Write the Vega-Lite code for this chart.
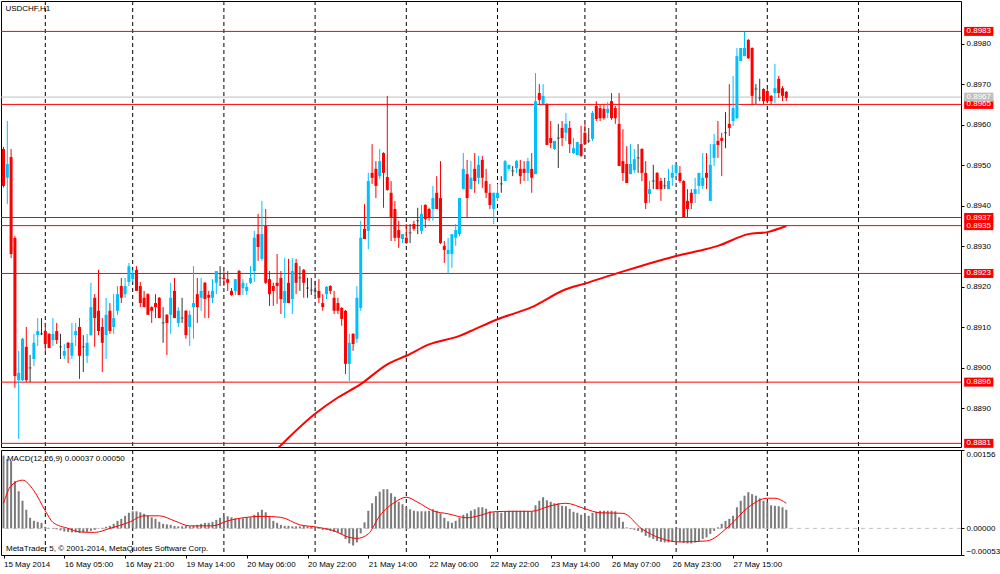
{
"$schema":"https://vega.github.io/schema/vega-lite/v6.json",
"padding":0,
"background":"white",
"spacing":3,
"bounds":"flush",
"config":{"view":{"stroke":"#000000","strokeWidth":1},"font":"Liberation Sans","axis":{"labelFont":"Liberation Sans","labelFontSize":8,"labelColor":"#000000","tickColor":"#000000","domainColor":"#000000","grid":false,"title":null}},
"datasets":{
"bars":[
{"i":0,"o":0.8954,"h":0.89545,"l":0.89445,"c":0.89449,"m":0.00145},
{"i":1,"o":0.89469,"h":0.89609,"l":0.89404,"c":0.89503,"m":0.00138},
{"i":2,"o":0.8952,"h":0.8954,"l":0.89271,"c":0.89281,"m":0.00134},
{"i":3,"o":0.89321,"h":0.89325,"l":0.88951,"c":0.8898,"m":0.00094},
{"i":4,"o":0.8897,"h":0.89042,"l":0.88825,"c":0.88988,"m":0.00074},
{"i":5,"o":0.8897,"h":0.89074,"l":0.88968,"c":0.89072,"m":0.00055},
{"i":6,"o":0.89052,"h":0.89101,"l":0.88965,"c":0.8897,"m":0.00037},
{"i":7,"o":0.89,"h":0.89032,"l":0.88965,"c":0.89,"m":0.00021},
{"i":8,"o":0.89022,"h":0.89084,"l":0.89005,"c":0.89062,"m":0.00015},
{"i":9,"o":0.89081,"h":0.89123,"l":0.89054,"c":0.89091,"m":0.00013},
{"i":10,"o":0.89084,"h":0.89123,"l":0.89081,"c":0.89084,"m":0.00011},
{"i":11,"o":0.89091,"h":0.89111,"l":0.89042,"c":0.89059,"m":0.00003},
{"i":12,"o":0.89084,"h":0.89086,"l":0.89049,"c":0.89049,"m":0.00001},
{"i":13,"o":0.89069,"h":0.89123,"l":0.89054,"c":0.89084,"m":-0.00001},
{"i":14,"o":0.89091,"h":0.89111,"l":0.89059,"c":0.89069,"m":-0.00002},
{"i":15,"o":0.89052,"h":0.89084,"l":0.89022,"c":0.89052,"m":-0.00004},
{"i":16,"o":0.8903,"h":0.89059,"l":0.89022,"c":0.89042,"m":-0.00006},
{"i":17,"o":0.89062,"h":0.89064,"l":0.89012,"c":0.89049,"m":-0.00007},
{"i":18,"o":0.8903,"h":0.89111,"l":0.89022,"c":0.89062,"m":-0.00008},
{"i":19,"o":0.89081,"h":0.89111,"l":0.89054,"c":0.89091,"m":-0.00008},
{"i":20,"o":0.89101,"h":0.89123,"l":0.88973,"c":0.8903,"m":-0.00009},
{"i":21,"o":0.89052,"h":0.89081,"l":0.8899,"c":0.89052,"m":-0.00008},
{"i":22,"o":0.8903,"h":0.89084,"l":0.89012,"c":0.89062,"m":-0.00007},
{"i":23,"o":0.89081,"h":0.8921,"l":0.89079,"c":0.8915,"m":-0.00005},
{"i":24,"o":0.89173,"h":0.89182,"l":0.89052,"c":0.89123,"m":-0.00003},
{"i":25,"o":0.89141,"h":0.89242,"l":0.89081,"c":0.89091,"m":-0.00001},
{"i":26,"o":0.89101,"h":0.89123,"l":0.8899,"c":0.89062,"m":0.00001},
{"i":27,"o":0.89081,"h":0.89173,"l":0.89022,"c":0.89131,"m":0.00003},
{"i":28,"o":0.89141,"h":0.8916,"l":0.89084,"c":0.89091,"m":0.00005},
{"i":29,"o":0.89101,"h":0.89182,"l":0.89084,"c":0.89123,"m":0.00009},
{"i":30,"o":0.89141,"h":0.89202,"l":0.89131,"c":0.89182,"m":0.00015},
{"i":31,"o":0.89202,"h":0.89222,"l":0.8916,"c":0.89173,"m":0.00019},
{"i":32,"o":0.89182,"h":0.89222,"l":0.89173,"c":0.89202,"m":0.00025},
{"i":33,"o":0.89212,"h":0.89259,"l":0.89202,"c":0.89251,"m":0.00031},
{"i":34,"o":0.89219,"h":0.89242,"l":0.89212,"c":0.89232,"m":0.00034},
{"i":35,"o":0.89242,"h":0.89251,"l":0.8919,"c":0.8919,"m":0.00034},
{"i":36,"o":0.89202,"h":0.89212,"l":0.8915,"c":0.8916,"m":0.00032},
{"i":37,"o":0.89173,"h":0.8919,"l":0.8915,"c":0.8915,"m":0.00029},
{"i":38,"o":0.89182,"h":0.89184,"l":0.89131,"c":0.89131,"m":0.00025},
{"i":39,"o":0.8915,"h":0.89152,"l":0.89111,"c":0.89141,"m":0.00022},
{"i":40,"o":0.8916,"h":0.89182,"l":0.89123,"c":0.8915,"m":0.00019},
{"i":41,"o":0.89173,"h":0.89175,"l":0.89123,"c":0.89123,"m":0.00013},
{"i":42,"o":0.89111,"h":0.8915,"l":0.89062,"c":0.89111,"m":0.00009},
{"i":43,"o":0.89131,"h":0.89133,"l":0.89032,"c":0.89111,"m":0.00008},
{"i":44,"o":0.89131,"h":0.8921,"l":0.89084,"c":0.89173,"m":0.00007},
{"i":45,"o":0.8919,"h":0.89222,"l":0.89123,"c":0.89123,"m":0.00005},
{"i":46,"o":0.89111,"h":0.8915,"l":0.89101,"c":0.89141,"m":0.00004},
{"i":47,"o":0.89123,"h":0.89173,"l":0.89111,"c":0.89123,"m":0.00004},
{"i":48,"o":0.89141,"h":0.89143,"l":0.89072,"c":0.89081,"m":0.00005},
{"i":49,"o":0.89101,"h":0.89141,"l":0.89054,"c":0.89131,"m":0.00004},
{"i":50,"o":0.8915,"h":0.89251,"l":0.89072,"c":0.8916,"m":0.00005},
{"i":51,"o":0.89182,"h":0.89222,"l":0.89111,"c":0.8915,"m":0.00007},
{"i":52,"o":0.89173,"h":0.89222,"l":0.89141,"c":0.8919,"m":0.00009},
{"i":53,"o":0.8921,"h":0.89212,"l":0.89123,"c":0.8917,"m":0.00011},
{"i":54,"o":0.8918,"h":0.8919,"l":0.89123,"c":0.89173,"m":0.00011},
{"i":55,"o":0.89173,"h":0.89219,"l":0.8916,"c":0.8919,"m":0.00013},
{"i":56,"o":0.8921,"h":0.89239,"l":0.89182,"c":0.89239,"m":0.00017},
{"i":57,"o":0.89222,"h":0.89251,"l":0.89202,"c":0.89222,"m":0.00021},
{"i":58,"o":0.89222,"h":0.89239,"l":0.89202,"c":0.89219,"m":0.00023},
{"i":59,"o":0.89219,"h":0.89239,"l":0.8919,"c":0.8921,"m":0.00024},
{"i":60,"o":0.8919,"h":0.89197,"l":0.89178,"c":0.8918,"m":0.00022},
{"i":61,"o":0.8919,"h":0.89219,"l":0.8918,"c":0.89219,"m":0.0002},
{"i":62,"o":0.89239,"h":0.89242,"l":0.8918,"c":0.8918,"m":0.00019},
{"i":63,"o":0.89197,"h":0.89219,"l":0.8918,"c":0.8921,"m":0.0002},
{"i":64,"o":0.8919,"h":0.8921,"l":0.8918,"c":0.892,"m":0.00022},
{"i":65,"o":0.8921,"h":0.89251,"l":0.89207,"c":0.89222,"m":0.00022},
{"i":66,"o":0.89239,"h":0.89338,"l":0.89212,"c":0.89321,"m":0.00027},
{"i":67,"o":0.8933,"h":0.8938,"l":0.89264,"c":0.89298,"m":0.00032},
{"i":68,"o":0.89269,"h":0.89412,"l":0.89264,"c":0.8933,"m":0.00037},
{"i":69,"o":0.8935,"h":0.89392,"l":0.89207,"c":0.8921,"m":0.00032},
{"i":70,"o":0.89219,"h":0.89239,"l":0.89153,"c":0.89182,"m":0.00022},
{"i":71,"o":0.89202,"h":0.8921,"l":0.89153,"c":0.8919,"m":0.00015},
{"i":72,"o":0.8921,"h":0.89281,"l":0.89158,"c":0.89202,"m":0.00011},
{"i":73,"o":0.89222,"h":0.89239,"l":0.89133,"c":0.8917,"m":0.00007},
{"i":74,"o":0.8916,"h":0.89271,"l":0.89123,"c":0.8919,"m":0.00005},
{"i":75,"o":0.8921,"h":0.89269,"l":0.8916,"c":0.8916,"m":0.00005},
{"i":76,"o":0.8917,"h":0.89271,"l":0.89133,"c":0.89239,"m":0.00004},
{"i":77,"o":0.89259,"h":0.89269,"l":0.89182,"c":0.8921,"m":0.00004},
{"i":78,"o":0.89222,"h":0.89251,"l":0.8919,"c":0.89222,"m":0.00004},
{"i":79,"o":0.89242,"h":0.89244,"l":0.89173,"c":0.8921,"m":0.00005},
{"i":80,"o":0.89197,"h":0.89222,"l":0.89173,"c":0.89197,"m":0.00004},
{"i":81,"o":0.89192,"h":0.89222,"l":0.8918,"c":0.89192,"m":0.00004},
{"i":82,"o":0.8919,"h":0.89215,"l":0.89178,"c":0.8919,"m":0.00001},
{"i":83,"o":0.8919,"h":0.89219,"l":0.8916,"c":0.89173,"m":-0.00001},
{"i":84,"o":0.8916,"h":0.89182,"l":0.89141,"c":0.8915,"m":-0.00003},
{"i":85,"o":0.89182,"h":0.89202,"l":0.8917,"c":0.892,"m":-0.00003},
{"i":86,"o":0.89202,"h":0.89204,"l":0.89182,"c":0.8919,"m":-0.00005},
{"i":87,"o":0.89173,"h":0.8919,"l":0.89133,"c":0.89141,"m":-0.00007},
{"i":88,"o":0.8916,"h":0.89173,"l":0.89133,"c":0.89141,"m":-0.00008},
{"i":89,"o":0.89148,"h":0.8915,"l":0.89104,"c":0.89121,"m":-0.00012},
{"i":90,"o":0.89141,"h":0.89143,"l":0.88985,"c":0.8901,"m":-0.00021},
{"i":91,"o":0.8901,"h":0.89084,"l":0.88968,"c":0.89062,"m":-0.0003},
{"i":92,"o":0.89084,"h":0.89086,"l":0.89042,"c":0.89059,"m":-0.00034},
{"i":93,"o":0.89072,"h":0.89202,"l":0.89062,"c":0.89173,"m":-0.00028},
{"i":94,"o":0.89148,"h":0.89363,"l":0.89141,"c":0.89321,"m":-0.0001},
{"i":95,"o":0.89343,"h":0.89404,"l":0.89318,"c":0.89318,"m":0.00012},
{"i":96,"o":0.89338,"h":0.89481,"l":0.89293,"c":0.89461,"m":0.00035},
{"i":97,"o":0.89481,"h":0.89552,"l":0.89454,"c":0.89469,"m":0.0005},
{"i":98,"o":0.89491,"h":0.8951,"l":0.89419,"c":0.89449,"m":0.00064},
{"i":99,"o":0.89473,"h":0.8954,"l":0.89466,"c":0.8951,"m":0.00073},
{"i":100,"o":0.8953,"h":0.89532,"l":0.89395,"c":0.89481,"m":0.00078},
{"i":101,"o":0.89471,"h":0.89671,"l":0.89437,"c":0.89439,"m":0.00078},
{"i":102,"o":0.89432,"h":0.89461,"l":0.89313,"c":0.8937,"m":0.0007},
{"i":103,"o":0.89392,"h":0.89412,"l":0.89313,"c":0.89321,"m":0.00063},
{"i":104,"o":0.8934,"h":0.89363,"l":0.89296,"c":0.89321,"m":0.00053},
{"i":105,"o":0.89318,"h":0.8933,"l":0.89308,"c":0.8933,"m":0.00048},
{"i":106,"o":0.89321,"h":0.89355,"l":0.89306,"c":0.89308,"m":0.00042},
{"i":107,"o":0.89333,"h":0.89355,"l":0.89308,"c":0.89333,"m":0.00038},
{"i":108,"o":0.89355,"h":0.89363,"l":0.89338,"c":0.89343,"m":0.00035},
{"i":109,"o":0.89363,"h":0.89395,"l":0.8933,"c":0.89363,"m":0.00034},
{"i":110,"o":0.89338,"h":0.89402,"l":0.8933,"c":0.8938,"m":0.00034},
{"i":111,"o":0.89402,"h":0.89404,"l":0.89345,"c":0.89367,"m":0.00034},
{"i":112,"o":0.89392,"h":0.89395,"l":0.89363,"c":0.8937,"m":0.00035},
{"i":113,"o":0.89392,"h":0.89449,"l":0.89363,"c":0.89419,"m":0.00038},
{"i":114,"o":0.89432,"h":0.89473,"l":0.89392,"c":0.89392,"m":0.00035},
{"i":115,"o":0.89419,"h":0.8951,"l":0.89306,"c":0.89308,"m":0.0003},
{"i":116,"o":0.89301,"h":0.89313,"l":0.89259,"c":0.89291,"m":0.00021},
{"i":117,"o":0.89281,"h":0.89321,"l":0.89232,"c":0.89291,"m":0.00014},
{"i":118,"o":0.89281,"h":0.8933,"l":0.89247,"c":0.8933,"m":0.00011},
{"i":119,"o":0.89321,"h":0.89355,"l":0.89301,"c":0.8934,"m":0.00015},
{"i":120,"o":0.8933,"h":0.89419,"l":0.89325,"c":0.89419,"m":0.00021},
{"i":121,"o":0.89441,"h":0.8953,"l":0.89441,"c":0.89491,"m":0.00027},
{"i":122,"o":0.89478,"h":0.89513,"l":0.8937,"c":0.89419,"m":0.0003},
{"i":123,"o":0.89441,"h":0.8951,"l":0.89441,"c":0.89469,"m":0.00035},
{"i":124,"o":0.89491,"h":0.8953,"l":0.89432,"c":0.89461,"m":0.00038},
{"i":125,"o":0.89469,"h":0.89523,"l":0.89454,"c":0.89501,"m":0.00042},
{"i":126,"o":0.89513,"h":0.89523,"l":0.89444,"c":0.89469,"m":0.00042},
{"i":127,"o":0.89461,"h":0.89491,"l":0.89419,"c":0.89432,"m":0.00039},
{"i":128,"o":0.89432,"h":0.89454,"l":0.89392,"c":0.89402,"m":0.00034},
{"i":129,"o":0.89392,"h":0.89432,"l":0.89355,"c":0.89432,"m":0.00032},
{"i":130,"o":0.89419,"h":0.89454,"l":0.89412,"c":0.89432,"m":0.00033},
{"i":131,"o":0.89454,"h":0.89473,"l":0.89432,"c":0.89454,"m":0.00031},
{"i":132,"o":0.89461,"h":0.89513,"l":0.89461,"c":0.8951,"m":0.00033},
{"i":133,"o":0.89491,"h":0.89501,"l":0.89486,"c":0.89501,"m":0.00035},
{"i":134,"o":0.89486,"h":0.89498,"l":0.89473,"c":0.89486,"m":0.00035},
{"i":135,"o":0.89493,"h":0.89513,"l":0.89481,"c":0.8951,"m":0.00035},
{"i":136,"o":0.89491,"h":0.89513,"l":0.89454,"c":0.89473,"m":0.00035},
{"i":137,"o":0.89491,"h":0.8951,"l":0.89461,"c":0.89481,"m":0.00035},
{"i":138,"o":0.89481,"h":0.89518,"l":0.89461,"c":0.8951,"m":0.00034},
{"i":139,"o":0.89491,"h":0.8953,"l":0.89432,"c":0.89469,"m":0.00034},
{"i":140,"o":0.89478,"h":0.89727,"l":0.89478,"c":0.89658,"m":0.00046},
{"i":141,"o":0.89678,"h":0.897,"l":0.89651,"c":0.89661,"m":0.00055},
{"i":142,"o":0.89651,"h":0.897,"l":0.89651,"c":0.89671,"m":0.00062},
{"i":143,"o":0.89651,"h":0.89653,"l":0.8955,"c":0.8955,"m":0.00056},
{"i":144,"o":0.89567,"h":0.89609,"l":0.89542,"c":0.89555,"m":0.00053},
{"i":145,"o":0.8954,"h":0.8956,"l":0.89538,"c":0.8956,"m":0.0005},
{"i":146,"o":0.89567,"h":0.89602,"l":0.89493,"c":0.89567,"m":0.0005},
{"i":147,"o":0.89592,"h":0.89609,"l":0.89547,"c":0.89567,"m":0.00045},
{"i":148,"o":0.8958,"h":0.89629,"l":0.8956,"c":0.89602,"m":0.00044},
{"i":149,"o":0.89592,"h":0.89609,"l":0.8953,"c":0.89552,"m":0.00039},
{"i":150,"o":0.8953,"h":0.89567,"l":0.89528,"c":0.89542,"m":0.00033},
{"i":151,"o":0.89525,"h":0.89557,"l":0.89525,"c":0.89557,"m":0.00031},
{"i":152,"o":0.89552,"h":0.89597,"l":0.8952,"c":0.89523,"m":0.00027},
{"i":153,"o":0.8958,"h":0.89602,"l":0.89552,"c":0.89552,"m":0.00025},
{"i":154,"o":0.8956,"h":0.89592,"l":0.89555,"c":0.8956,"m":0.00025},
{"i":155,"o":0.89565,"h":0.89634,"l":0.8956,"c":0.89629,"m":0.00031},
{"i":156,"o":0.89646,"h":0.89658,"l":0.89609,"c":0.89614,"m":0.00033},
{"i":157,"o":0.89641,"h":0.89648,"l":0.89609,"c":0.89616,"m":0.00035},
{"i":158,"o":0.89639,"h":0.89648,"l":0.89612,"c":0.89616,"m":0.00035},
{"i":159,"o":0.89629,"h":0.89656,"l":0.89616,"c":0.89639,"m":0.00035},
{"i":160,"o":0.89658,"h":0.89678,"l":0.89612,"c":0.89616,"m":0.00035},
{"i":161,"o":0.89641,"h":0.89646,"l":0.89602,"c":0.89616,"m":0.00034},
{"i":162,"o":0.89602,"h":0.89678,"l":0.89498,"c":0.89498,"m":0.00022},
{"i":163,"o":0.8951,"h":0.89589,"l":0.89461,"c":0.89481,"m":0.00013},
{"i":164,"o":0.89503,"h":0.89547,"l":0.89456,"c":0.89456,"m":0.00002},
{"i":165,"o":0.89478,"h":0.89552,"l":0.89478,"c":0.89503,"m":-0.00001},
{"i":166,"o":0.89488,"h":0.8954,"l":0.89481,"c":0.89515,"m":-0.00003},
{"i":167,"o":0.89518,"h":0.89552,"l":0.89481,"c":0.89518,"m":-0.00005},
{"i":168,"o":0.8954,"h":0.89542,"l":0.89461,"c":0.89481,"m":-0.00008},
{"i":169,"o":0.89481,"h":0.8951,"l":0.89392,"c":0.89407,"m":-0.00015},
{"i":170,"o":0.89429,"h":0.89461,"l":0.89407,"c":0.89441,"m":-0.00018},
{"i":171,"o":0.89461,"h":0.89501,"l":0.89441,"c":0.89461,"m":-0.00021},
{"i":172,"o":0.89481,"h":0.89483,"l":0.89441,"c":0.89441,"m":-0.00025},
{"i":173,"o":0.89461,"h":0.89469,"l":0.89412,"c":0.89441,"m":-0.00027},
{"i":174,"o":0.89449,"h":0.89469,"l":0.89441,"c":0.89449,"m":-0.00028},
{"i":175,"o":0.89441,"h":0.89491,"l":0.89441,"c":0.89461,"m":-0.00028},
{"i":176,"o":0.89469,"h":0.89501,"l":0.89449,"c":0.89481,"m":-0.00027},
{"i":177,"o":0.89481,"h":0.89501,"l":0.89469,"c":0.89501,"m":-0.00025},
{"i":178,"o":0.89481,"h":0.89498,"l":0.89456,"c":0.89461,"m":-0.00027},
{"i":179,"o":0.89461,"h":0.89463,"l":0.8937,"c":0.8937,"m":-0.00029},
{"i":180,"o":0.89412,"h":0.89441,"l":0.8937,"c":0.89392,"m":-0.0003},
{"i":181,"o":0.89432,"h":0.89441,"l":0.89392,"c":0.89407,"m":-0.0003},
{"i":182,"o":0.89429,"h":0.89469,"l":0.89407,"c":0.89441,"m":-0.00028},
{"i":183,"o":0.89449,"h":0.89481,"l":0.89429,"c":0.89481,"m":-0.00025},
{"i":184,"o":0.89449,"h":0.8953,"l":0.89441,"c":0.89469,"m":-0.00021},
{"i":185,"o":0.89481,"h":0.8953,"l":0.89441,"c":0.89469,"m":-0.00018},
{"i":186,"o":0.89412,"h":0.89552,"l":0.89412,"c":0.89501,"m":-0.00011},
{"i":187,"o":0.89518,"h":0.89577,"l":0.89498,"c":0.89552,"m":-0.00005},
{"i":188,"o":0.8956,"h":0.89609,"l":0.89518,"c":0.8955,"m":0.00002},
{"i":189,"o":0.89567,"h":0.8958,"l":0.89473,"c":0.8956,"m":0.00009},
{"i":190,"o":0.8958,"h":0.89631,"l":0.89542,"c":0.8958,"m":0.00015},
{"i":191,"o":0.89602,"h":0.897,"l":0.89572,"c":0.89592,"m":0.00019},
{"i":192,"o":0.89609,"h":0.8972,"l":0.89597,"c":0.89641,"m":0.00025},
{"i":193,"o":0.89616,"h":0.89789,"l":0.89614,"c":0.89769,"m":0.00042},
{"i":194,"o":0.89757,"h":0.89789,"l":0.89757,"c":0.89789,"m":0.00055},
{"i":195,"o":0.89769,"h":0.89829,"l":0.89769,"c":0.89789,"m":0.00065},
{"i":196,"o":0.89809,"h":0.89811,"l":0.89762,"c":0.89764,"m":0.00072},
{"i":197,"o":0.89789,"h":0.89791,"l":0.89648,"c":0.89671,"m":0.00068},
{"i":198,"o":0.89688,"h":0.897,"l":0.89651,"c":0.89688,"m":0.00065},
{"i":199,"o":0.89666,"h":0.89713,"l":0.89658,"c":0.89666,"m":0.0006},
{"i":200,"o":0.89688,"h":0.8969,"l":0.89651,"c":0.89658,"m":0.00055},
{"i":201,"o":0.89683,"h":0.8969,"l":0.89653,"c":0.89658,"m":0.00052},
{"i":202,"o":0.89671,"h":0.89673,"l":0.89651,"c":0.89658,"m":0.00046},
{"i":203,"o":0.89678,"h":0.8975,"l":0.89653,"c":0.8969,"m":0.00045},
{"i":204,"o":0.89713,"h":0.8972,"l":0.89666,"c":0.89678,"m":0.00044},
{"i":205,"o":0.8969,"h":0.89695,"l":0.89658,"c":0.89671,"m":0.00042},
{"i":206,"o":0.89681,"h":0.89683,"l":0.89658,"c":0.89666,"m":0.00037}
],
"sig":[
{"i":0,"s":0.0005},{"i":2,"s":0.00085},{"i":5,"s":0.00096},{"i":8,"s":0.00075},{"i":11,"s":0.00035},{"i":13,"s":0.00012},{"i":17,"s":0.0},{"i":20,"s":-0.00007},{"i":24,"s":-0.00008},{"i":28,"s":0.0},{"i":33,"s":0.00012},{"i":37,"s":0.00025},{"i":41,"s":0.00025},{"i":45,"s":0.00015},{"i":49,"s":0.00005},{"i":55,"s":0.00005},{"i":59,"s":0.00015},{"i":64,"s":0.00022},{"i":68,"s":0.00024},{"i":73,"s":0.00022},{"i":78,"s":0.00007},{"i":82,"s":0.00003},{"i":87,"s":-0.00005},{"i":91,"s":-0.00018},{"i":93,"s":-0.0002},{"i":96,"s":-0.00011},{"i":99,"s":0.00025},{"i":103,"s":0.00052},{"i":106,"s":0.00062},{"i":109,"s":0.00052},{"i":113,"s":0.00035},{"i":117,"s":0.00029},{"i":122,"s":0.00021},{"i":125,"s":0.00025},{"i":129,"s":0.00033},{"i":134,"s":0.00034},{"i":139,"s":0.00034},{"i":144,"s":0.00045},{"i":148,"s":0.0005},{"i":153,"s":0.00039},{"i":157,"s":0.00031},{"i":163,"s":0.0003},{"i":168,"s":-0.00001},{"i":173,"s":-0.0002},{"i":178,"s":-0.00027},{"i":185,"s":-0.00025},{"i":191,"s":0.00005},{"i":196,"s":0.00042},{"i":201,"s":0.0006},{"i":203,"s":0.0006},{"i":206,"s":0.0005}
],
"ma":[
{"i":72,"v":0.888},{"i":82,"v":0.88887},{"i":88,"v":0.88927},{"i":94,"v":0.8896},{"i":101,"v":0.89009},{"i":106,"v":0.8903},{"i":112,"v":0.89058},{"i":120,"v":0.89079},{"i":123,"v":0.89091},{"i":130,"v":0.8912},{"i":139,"v":0.8915},{"i":148,"v":0.89194},{"i":153,"v":0.89208},{"i":162,"v":0.89235},{"i":168,"v":0.89252},{"i":177,"v":0.89276},{"i":183,"v":0.89289},{"i":188,"v":0.89301},{"i":196,"v":0.8933},{"i":201,"v":0.89335},{"i":206,"v":0.8935}
],
"lv":[
{"p":0.8983,"t":"0.8983"},{"p":0.8965,"t":"0.8965"},{"p":0.89371,"t":"0.8937"},{"p":0.89351,"t":"0.8935"},{"p":0.89233,"t":"0.8923"},{"p":0.88965,"t":"0.8896"},{"p":0.88814,"t":"0.8881"}
],
"bid":[{"p":0.89668,"t":"0.8967"}],
"grid":[{"g":11},{"g":34},{"g":58},{"g":82},{"g":106},{"g":130},{"g":153},{"g":177},{"g":201},{"g":225}]
},
"vconcat":[
{
"width":960,"height":446,
"layer":[
{"data":{"name":"grid"},"mark":{"type":"rule","color":"#000000","strokeDash":[4,3],"strokeWidth":1},
 "encoding":{"x":{"field":"g","type":"quantitative","scale":{"domain":[-0.658,251.97],"nice":false,"zero":false,"padding":0},"axis":null}}},
{"data":{"name":"lv"},"mark":{"type":"rule","color":"#FF0000","strokeWidth":1},
 "encoding":{"y":{"field":"p","type":"quantitative","scale":{"domain":[0.88805,0.89905],"nice":false,"zero":false,"padding":0},
  "axis":{"orient":"right","values":[0.889,0.89,0.891,0.892,0.893,0.894,0.895,0.896,0.897,0.898],"format":".4f","tickSize":3,"labelPadding":2,"domain":false,"labelOverlap":false,"labelBound":false,"title":null}}}},
{"data":{"name":"bid"},"mark":{"type":"rule","color":"#C0C0C0","strokeWidth":1},
 "encoding":{"y":{"field":"p","type":"quantitative","scale":{"domain":[0.88805,0.89905],"nice":false,"zero":false,"padding":0}}}},
{"data":{"name":"ma"},"mark":{"type":"line","color":"#FF0000","strokeWidth":2,"clip":true,"interpolate":"monotone"},
 "encoding":{"x":{"field":"i","type":"quantitative","scale":{"domain":[-0.658,251.97],"nice":false,"zero":false,"padding":0},"axis":null},
  "y":{"field":"v","type":"quantitative","scale":{"domain":[0.88805,0.89905],"nice":false,"zero":false,"padding":0}}}},
{"data":{"name":"bars"},"mark":{"type":"rule","strokeWidth":1},
 "encoding":{"x":{"field":"i","type":"quantitative","scale":{"domain":[-0.658,251.97],"nice":false,"zero":false,"padding":0},"axis":null},
  "y":{"field":"l","type":"quantitative","scale":{"domain":[0.88805,0.89905],"nice":false,"zero":false,"padding":0}},
  "y2":{"field":"h"},
  "color":{"condition":[{"test":"datum.c > datum.o","value":"#00BFFF"},{"test":"datum.c < datum.o","value":"#FF0000"}],"value":"#333333"}}},
{"data":{"name":"bars"},"mark":{"type":"bar","width":3},
 "encoding":{"x":{"field":"i","type":"quantitative","scale":{"domain":[-0.658,251.97],"nice":false,"zero":false,"padding":0},"axis":null},
  "y":{"field":"o","type":"quantitative","scale":{"domain":[0.88805,0.89905],"nice":false,"zero":false,"padding":0}},
  "y2":{"field":"c"},
  "color":{"condition":[{"test":"datum.c > datum.o","value":"#00BFFF"},{"test":"datum.c < datum.o","value":"#FF0000"}],"value":"#333333"}}},
{"data":{"name":"bars"},"transform":[{"filter":"datum.o == datum.c"}],"mark":{"type":"tick","orient":"horizontal","size":3,"thickness":1,"color":"#333333"},
 "encoding":{"x":{"field":"i","type":"quantitative","scale":{"domain":[-0.658,251.97],"nice":false,"zero":false,"padding":0},"axis":null},
  "y":{"field":"o","type":"quantitative","scale":{"domain":[0.88805,0.89905],"nice":false,"zero":false,"padding":0}}}},
{"data":{"name":"lv"},"mark":{"type":"rule","color":"#FF0000","strokeWidth":9,"strokeCap":"butt"},
 "encoding":{"x":{"datum":252.8,"type":"quantitative","scale":{"domain":[-0.658,251.97],"nice":false,"zero":false,"padding":0},"axis":null},"x2":{"datum":260.5},
  "y":{"field":"p","type":"quantitative","scale":{"domain":[0.88805,0.89905],"nice":false,"zero":false,"padding":0}}}},
{"data":{"name":"bid"},"mark":{"type":"rule","color":"#C0C0C0","strokeWidth":9,"strokeCap":"butt"},
 "encoding":{"x":{"datum":252.8,"type":"quantitative","scale":{"domain":[-0.658,251.97],"nice":false,"zero":false,"padding":0},"axis":null},"x2":{"datum":260.5},
  "y":{"field":"p","type":"quantitative","scale":{"domain":[0.88805,0.89905],"nice":false,"zero":false,"padding":0}}}},
{"data":{"name":"lv"},"mark":{"type":"text","color":"#FFFFFF","fontSize":8,"align":"center","baseline":"middle"},
 "encoding":{"x":{"datum":256.65,"type":"quantitative","scale":{"domain":[-0.658,251.97],"nice":false,"zero":false,"padding":0},"axis":null},
  "y":{"field":"p","type":"quantitative","scale":{"domain":[0.88805,0.89905],"nice":false,"zero":false,"padding":0}},"text":{"field":"t"}}},
{"data":{"name":"bid"},"mark":{"type":"text","color":"#FFFFFF","fontSize":8,"align":"center","baseline":"middle"},
 "encoding":{"x":{"datum":256.65,"type":"quantitative","scale":{"domain":[-0.658,251.97],"nice":false,"zero":false,"padding":0},"axis":null},
  "y":{"field":"p","type":"quantitative","scale":{"domain":[0.88805,0.89905],"nice":false,"zero":false,"padding":0}},"text":{"field":"t"}}},
{"data":{"values":[{"t":"USDCHF,H1","x":0.5,"y":0.89885}]},"mark":{"type":"text","color":"#000000","fontSize":8,"align":"left","baseline":"middle"},
 "encoding":{"x":{"field":"x","type":"quantitative","scale":{"domain":[-0.658,251.97],"nice":false,"zero":false,"padding":0},"axis":null},
  "y":{"field":"y","type":"quantitative","scale":{"domain":[0.88805,0.89905],"nice":false,"zero":false,"padding":0}},"text":{"field":"t"}}}
]
},
{
"width":960,"height":105,
"layer":[
{"data":{"name":"grid"},"mark":{"type":"rule","color":"#000000","strokeDash":[4,3],"strokeWidth":1},
 "encoding":{"x":{"field":"g","type":"quantitative","scale":{"domain":[-0.658,251.97],"nice":false,"zero":false,"padding":0}}}},
{"data":{"values":[{"z":0}]},"mark":{"type":"rule","color":"#C0C0C0","strokeDash":[4,4],"strokeWidth":1},
 "encoding":{"y":{"field":"z","type":"quantitative","scale":{"domain":[-0.00053,0.00156],"nice":false,"zero":false,"padding":0},
  "axis":{"orient":"right","values":[-0.00053,0,0.00156],"format":".5f","tickSize":3,"labelPadding":2,"domain":false,"labelFlush":true,"labelOverlap":false,"title":null}}}},
{"data":{"name":"bars"},"mark":{"type":"bar","width":2,"color":"#7A7A7A"},
 "encoding":{"x":{"field":"i","type":"quantitative","scale":{"domain":[-0.658,251.97],"nice":false,"zero":false,"padding":0},
   "axis":{"orient":"bottom","values":[0,16,32,48,64,80,96,112,128,144,160,176,192],"labelExpr":"['15 May 2014','16 May 05:00','16 May 21:00','19 May 14:00','20 May 06:00','20 May 22:00','21 May 14:00','22 May 06:00','22 May 22:00','23 May 14:00','26 May 07:00','26 May 23:00','27 May 15:00'][round(datum.value/16)]","labelAlign":"left","tickSize":3,"labelPadding":2,"domain":false,"labelOverlap":false,"labelBound":false,"labelFlush":false,"title":null}},
  "y":{"field":"m","type":"quantitative","scale":{"domain":[-0.00053,0.00156],"nice":false,"zero":false,"padding":0}},
  "y2":{"datum":0}}},
{"data":{"name":"sig"},"mark":{"type":"line","color":"#FF0000","strokeWidth":1,"interpolate":"monotone"},
 "encoding":{"x":{"field":"i","type":"quantitative","scale":{"domain":[-0.658,251.97],"nice":false,"zero":false,"padding":0}},
  "y":{"field":"s","type":"quantitative","scale":{"domain":[-0.00053,0.00156],"nice":false,"zero":false,"padding":0}}}},
{"data":{"values":[{"t":"MACD(12,26,9) 0.00037 0.00050","x":0.9,"y":0.00138},{"t":"MetaTrader 5, © 2001-2014, MetaQuotes Software Corp.","x":0.66,"y":-0.00041}]},
 "mark":{"type":"text","color":"#000000","fontSize":8,"align":"left","baseline":"middle"},
 "encoding":{"x":{"field":"x","type":"quantitative","scale":{"domain":[-0.658,251.97],"nice":false,"zero":false,"padding":0}},
  "y":{"field":"y","type":"quantitative","scale":{"domain":[-0.00053,0.00156],"nice":false,"zero":false,"padding":0}},"text":{"field":"t"}}}
]
}
]
}
